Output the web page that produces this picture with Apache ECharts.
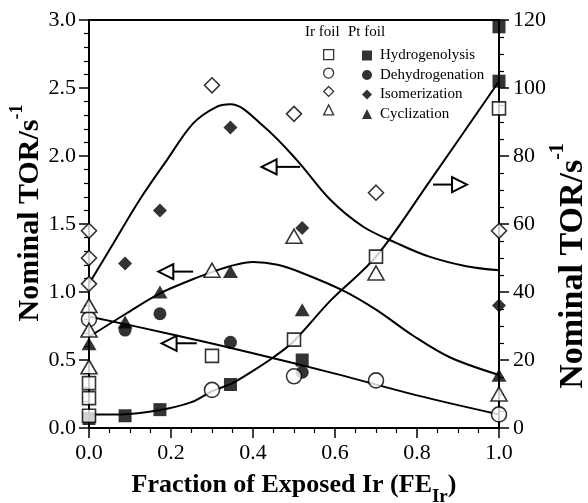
<!DOCTYPE html>
<html><head><meta charset="utf-8">
<script src="https://cdn.jsdelivr.net/npm/echarts@6/dist/echarts.min.js"></script>
<style>html,body{margin:0;padding:0;background:#fff}#c{width:588px;height:503px}</style>
</head><body><div id="c"></div>
<script>
// ---- tick values ----
const xTicks = [0.0, 0.2, 0.4, 0.6, 0.8, 1.0];
const leftTicks = [0.0, 0.5, 1.0, 1.5, 2.0, 2.5, 3.0];
const rightTicks = [0, 20, 40, 60, 80, 100, 120];

// ---- Ir foil (open symbols), left axis [FE_Ir, TOR] ----
const irHydrogenolysis = [[0,0.33],[0,0.22],[0,0.09],[0.30,0.53],[0.50,0.65],[0.70,1.26]];
const irDehydrogenation = [[0,0.80],[0.30,0.28],[0.50,0.38],[0.70,0.35]];
const irIsomerization = [[0,1.45],[0,1.25],[0,1.06],[0.30,2.52],[0.50,2.31],[0.70,1.73]];
const irCyclization = [[0,0.90],[0,0.72],[0,0.45],[0.30,1.16],[0.50,1.41],[0.70,1.14]];
// Ir foil points read on the right axis
const irHydrogenolysisR = [[1.0,94]];
const irDehydrogenationR = [[1.0,4]];
const irIsomerizationR = [[1.0,58]];
const irCyclizationR = [[1.0,10]];

// ---- Pt foil (filled symbols), left axis ----
const ptHydrogenolysis = [[0,0.07],[0.088,0.09],[0.173,0.135],[0.345,0.32],[0.52,0.50]];
const ptDehydrogenation = [[0.088,0.72],[0.173,0.84],[0.345,0.63],[0.52,0.41]];
const ptIsomerization = [[0.088,1.21],[0.173,1.60],[0.345,2.21],[0.52,1.47]];
const ptCyclization = [[0,0.62],[0.088,0.78],[0.173,1.00],[0.345,1.15],[0.52,0.87]];
// Pt foil points read on the right axis
const ptHydrogenolysisR = [[1.0,118],[1.0,102]];
const ptIsomerizationR = [[1.0,36]];
const ptCyclizationR = [[1.0,15.5]];

// ---- fitted curves, points ----
const curveIsomerization = [[0,1.06],[0.06,1.36],[0.124,1.68],[0.19,1.97],[0.254,2.24],[0.31,2.36],[0.345,2.38],[0.425,2.22],[0.507,1.97],[0.588,1.68],[0.669,1.48],[0.75,1.36],[0.83,1.26],[0.92,1.19],[1.0,1.16]];
const curveCyclization = [[0,0.67],[0.09,0.84],[0.173,0.99],[0.25,1.09],[0.303,1.15],[0.344,1.19],[0.40,1.22],[0.46,1.20],[0.52,1.14],[0.62,1.01],[0.70,0.87],[0.79,0.68],[0.88,0.52],[1.0,0.39]];
const curveDehydrogenation = [[0,0.82],[0.2,0.69],[0.4,0.55],[0.6,0.40],[0.8,0.24],[1.0,0.10]];
const curveHydrogenolysis = [[0,0.10],[0.08,0.10],[0.17,0.13],[0.25,0.19],[0.30,0.27],[0.35,0.33],[0.40,0.42],[0.45,0.52],[0.50,0.64],[0.59,0.94],[0.70,1.26],[0.83,1.81],[1.0,2.55]];

// ---- arrows [tail x, tip x, y (left axis)] ----
const arrows = [[0.515,0.421,1.92],[0.839,0.922,1.79],[0.254,0.169,1.15],[0.263,0.177,0.623]];

const names = ['Hydrogenolysis','Dehydrogenation','Isomerization','Cyclization'];
const FONT = '"Liberation Serif", "Times New Roman", serif';
const symbols = ['rect','circle','diamond','triangle'];
const openSize = [13, 15, [15,15], [16,14]];
const fillSize = [13, 13, [14,14], [15,13]];

const irL = [irHydrogenolysis, irDehydrogenation, irIsomerization, irCyclization];
const irR = [irHydrogenolysisR, irDehydrogenationR, irIsomerizationR, irCyclizationR];
const ptL = [ptHydrogenolysis, ptDehydrogenation, ptIsomerization, ptCyclization];
const ptR = [ptHydrogenolysisR, [], ptIsomerizationR, ptCyclizationR];
const curves = [curveHydrogenolysis, curveDehydrogenation, curveIsomerization, curveCyclization];

const series = [];
curves.forEach((c,i)=>series.push({
  type:'line', data:c, smooth:0.35, showSymbol:false, silent:true, z:2,
  lineStyle:{color:'#000', width:2}
}));
function scat(name, data, yi, i, open){
  return {
    type:'scatter', name, data, yAxisIndex:yi, symbol:symbols[i],
    symbolSize: open ? openSize[i] : fillSize[i], z: open ? 5 : 4,
    itemStyle: open ? {color:'#fff', borderColor:'#000', borderWidth:1.6} : {color:'#000', borderWidth:0}
  };
}
names.forEach((n,i)=>{
  series.push(scat(n, ptL[i], 0, i, false));
  if (ptR[i].length) series.push(scat(n, ptR[i], 1, i, false));
});
names.forEach((n,i)=>{
  series.push(scat(n+' (Ir)', irL[i], 0, i, true));
  series.push(scat(n+' (Ir)', irR[i], 1, i, true));
});
series.push({
  type:'custom', z:6, silent:true, data:arrows,
  dimensions:['tail','tip','y'], encode:{x:[0,1], y:2},
  renderItem(params, api){
    const tail = api.coord([api.value(0), api.value(2)]);
    const tip = api.coord([api.value(1), api.value(2)]);
    const dir = Math.sign(tip[0]-tail[0]);
    const L = 15, H = 7.5;
    const base = tip[0] - dir*L;
    return {type:'group', children:[
      {type:'line', shape:{x1:tail[0],y1:tail[1],x2:base,y2:tip[1]}, style:{stroke:'#000',lineWidth:2}},
      {type:'polygon', shape:{points:[[tip[0],tip[1]],[base,tip[1]-H],[base,tip[1]+H]]}, style:{fill:'#fff',stroke:'#000',lineWidth:2}}
    ]};
  }
});

const axisLine = {show:true, onZero:false, lineStyle:{color:'#000', width:2}};
const labelStyle = {color:'#000', fontFamily:FONT, fontSize:22};
function nameStyle(size, padding){
  return {color:'#000', fontFamily:FONT, fontWeight:'bold', fontSize:size, padding,
    rich:{
      sup:{fontFamily:FONT, fontWeight:'bold', fontSize:Math.round(size*0.6), verticalAlign:'top', lineHeight:Math.round(size*1.5)},
      sub:{fontFamily:FONT, fontWeight:'bold', fontSize:Math.round(size*0.73), verticalAlign:'bottom', lineHeight:Math.round(size*1.7)}
    }};
}

const chart = echarts.init(document.getElementById('c'), null, {renderer:'canvas'});
chart.setOption({
  animation:false,
  backgroundColor:'#fff',
  grid:{left:89, right:89, top:20, bottom:75, outerBoundsMode:'none', containLabel:false, show:true, borderColor:'#000', borderWidth:2, backgroundColor:'transparent'},
  xAxis:{
    type:'value', min:xTicks[0], max:xTicks[xTicks.length-1], interval:xTicks[1]-xTicks[0],
    axisLine, splitLine:{show:false},
    axisTick:{show:true, inside:false, length:10, lineStyle:{color:'#000', width:1.5}},
    minorTick:{show:true, splitNumber:4, length:5, lineStyle:{color:'#000', width:1.2}},
    axisLabel:{...labelStyle, margin:14, formatter:v=>v.toFixed(1)},
    name:'Fraction of Exposed Ir (FE{sub|Ir})', nameLocation:'middle', nameGap:35, nameMoveOverlap:false, nameTextStyle:nameStyle(26, 0)
  },
  yAxis:[{
    type:'value', position:'left', min:leftTicks[0], max:leftTicks[leftTicks.length-1], interval:leftTicks[1]-leftTicks[0],
    axisLine, splitLine:{show:false},
    axisTick:{show:true, inside:false, length:10, lineStyle:{color:'#000', width:1.5}},
    minorTick:{show:true, splitNumber:5, length:5, lineStyle:{color:'#000', width:1.2}},
    axisLabel:{...labelStyle, margin:13, formatter:v=>v.toFixed(1)},
    name:'Nominal TOR/s{sup|-1}', nameLocation:'middle', nameRotate:90, nameGap:36, nameMoveOverlap:false, nameTextStyle:nameStyle(30, [0,0,0,22])
  },{
    type:'value', position:'right', min:rightTicks[0], max:rightTicks[rightTicks.length-1], interval:rightTicks[1]-rightTicks[0],
    axisLine, splitLine:{show:false},
    axisTick:{show:true, inside:false, length:10, lineStyle:{color:'#000', width:1.5}},
    minorTick:{show:true, splitNumber:4, length:5, lineStyle:{color:'#000', width:1.2}},
    axisLabel:{...labelStyle, margin:14},
    name:'Nominal TOR/s{sup|-1}', nameLocation:'middle', nameRotate:90, nameGap:49, nameMoveOverlap:false, nameTextStyle:nameStyle(34, [0,84,0,0])
  }],
  legend:[{
    data:names.map(n=>n+' (Ir)'), orient:'vertical', left:318, top:44, itemWidth:10, itemHeight:10, itemGap:7.1,
    selectedMode:false, formatter:()=>'', textStyle:{fontSize:14, lineHeight:14},
    itemStyle:{color:'#fff', borderColor:'#000', borderWidth:1.3}
  },{
    data:names, orient:'vertical', left:357, top:43, itemWidth:10, itemHeight:10, itemGap:4.5,
    selectedMode:false, textStyle:{color:'#000', fontFamily:FONT, fontSize:15, lineHeight:14, padding:[0,0,0,3]},
    itemStyle:{color:'#000', borderWidth:0}
  }],
  graphic:[
    {type:'text', left:305, top:25, style:{text:'Ir foil', font:'15px "Liberation Serif"', fill:'#000'}},
    {type:'text', left:348, top:25, style:{text:'Pt foil', font:'15px "Liberation Serif"', fill:'#000'}}
  ],
  series
});
</script></body></html>
